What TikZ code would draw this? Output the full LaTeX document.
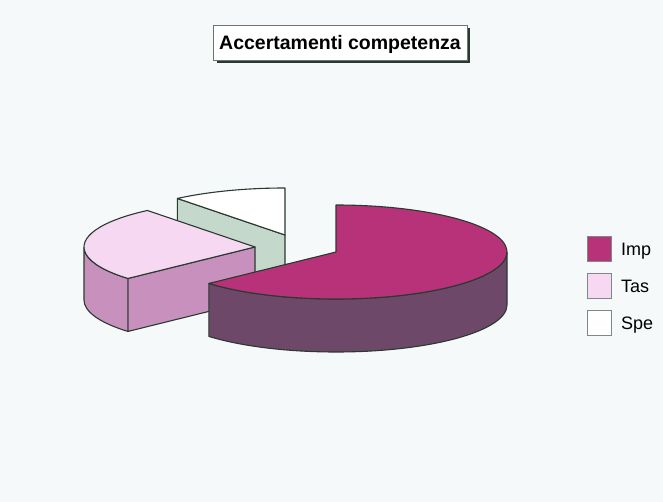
\documentclass[tikz,border=0pt]{standalone}
\usepackage{fontspec}
\setmainfont{Liberation Sans}
\usetikzlibrary{calc}
\definecolor{bgc}{HTML}{F5F9FA}
\definecolor{imptop}{HTML}{B8327A}
\definecolor{impside}{HTML}{6E4868}
\definecolor{tastop}{HTML}{F7D8F2}
\definecolor{tasside}{HTML}{C890BC}
\definecolor{spetop}{HTML}{FFFFFF}
\definecolor{speside}{HTML}{C4D8CC}
\definecolor{edge}{HTML}{2A3A30}
\tikzset{
  face/.style={draw=edge, line width=1.1pt, line join=round},
  legbox/.style={draw=edge!60, line width=0.6pt, minimum width=24pt, minimum height=25pt, inner sep=0pt},
  legtext/.style={anchor=west, inner sep=0pt, font=\fontsize{18}{20}\selectfont},
  titlebox/.style={draw=edge!70, line width=0.6pt, fill=white, inner xsep=6pt, inner ysep=0pt, minimum height=35pt, font=\bfseries\fontsize{19.5}{22}\selectfont}
}
\begin{document}
\begin{tikzpicture}[x=1pt,y=1pt]
\fill[bgc] (0,0) rectangle (663,-502);
\useasboundingbox (0,0) rectangle (663,-502);
\def\ra{171}\def\rb{47}\def\dp{53}
% centres
\coordinate (cs) at (285,-235);
\coordinate (ct) at (255,-247);
\coordinate (ci) at (336,-252);
% Spe slice
\draw[face, fill=speside] (cs) -- ($(cs)+(129:\ra pt and \rb pt)$) -- ++(0,-\dp) -- ($(cs)+(0,-\dp)$) -- cycle;
\draw[face, fill=spetop] (cs) -- ($(cs)+(129:\ra pt and \rb pt)$) arc[start angle=129, end angle=90, x radius=\ra, y radius=\rb] -- cycle;
% Tas slice
\draw[face, fill=tasside] (ct) -- ($(ct)+(222:\ra pt and \rb pt)$) -- ++(0,-\dp) -- ($(ct)+(0,-\dp)$) -- cycle;
\draw[face, fill=tasside] ($(ct)+(180:\ra pt and \rb pt)$) arc[start angle=180, end angle=222, x radius=\ra, y radius=\rb] -- ++(0,-\dp) arc[start angle=222, end angle=180, x radius=\ra, y radius=\rb] -- cycle;
\draw[face, fill=tastop] (ct) -- ($(ct)+(129:\ra pt and \rb pt)$) arc[start angle=129, end angle=222, x radius=\ra, y radius=\rb] -- cycle;
% Imp slice
\draw[face, fill=impside] ($(ci)+(222:\ra pt and \rb pt)$) arc[start angle=222, end angle=360, x radius=\ra, y radius=\rb] -- ++(0,-\dp) arc[start angle=360, end angle=222, x radius=\ra, y radius=\rb] -- cycle;
\draw[face, fill=imptop] (ci) -- ($(ci)+(222:\ra pt and \rb pt)$) arc[start angle=222, end angle=450, x radius=\ra, y radius=\rb] -- cycle;
% title
\node[titlebox] (title) at (340,-42.5) {Accertamenti competenza};
\draw[edge, line width=2pt] ([xshift=2pt,yshift=-3pt]title.north east) -- ([xshift=2pt,yshift=-2pt]title.south east) -- ([xshift=4pt,yshift=-2pt]title.south west);
% legend
\node[legbox, fill=imptop] (limp) at (599,-249) {};
\node[legbox, fill=tastop] (ltas) at (599,-286) {};
\node[legbox, fill=spetop] (lspe) at (599,-323) {};
\node[legtext] (timp) at (621,-249) {Imp};
\node[legtext] (ttas) at (621,-286) {Tas};
\node[legtext] (tspe) at (621,-323) {Spe};
\end{tikzpicture}
\end{document}
